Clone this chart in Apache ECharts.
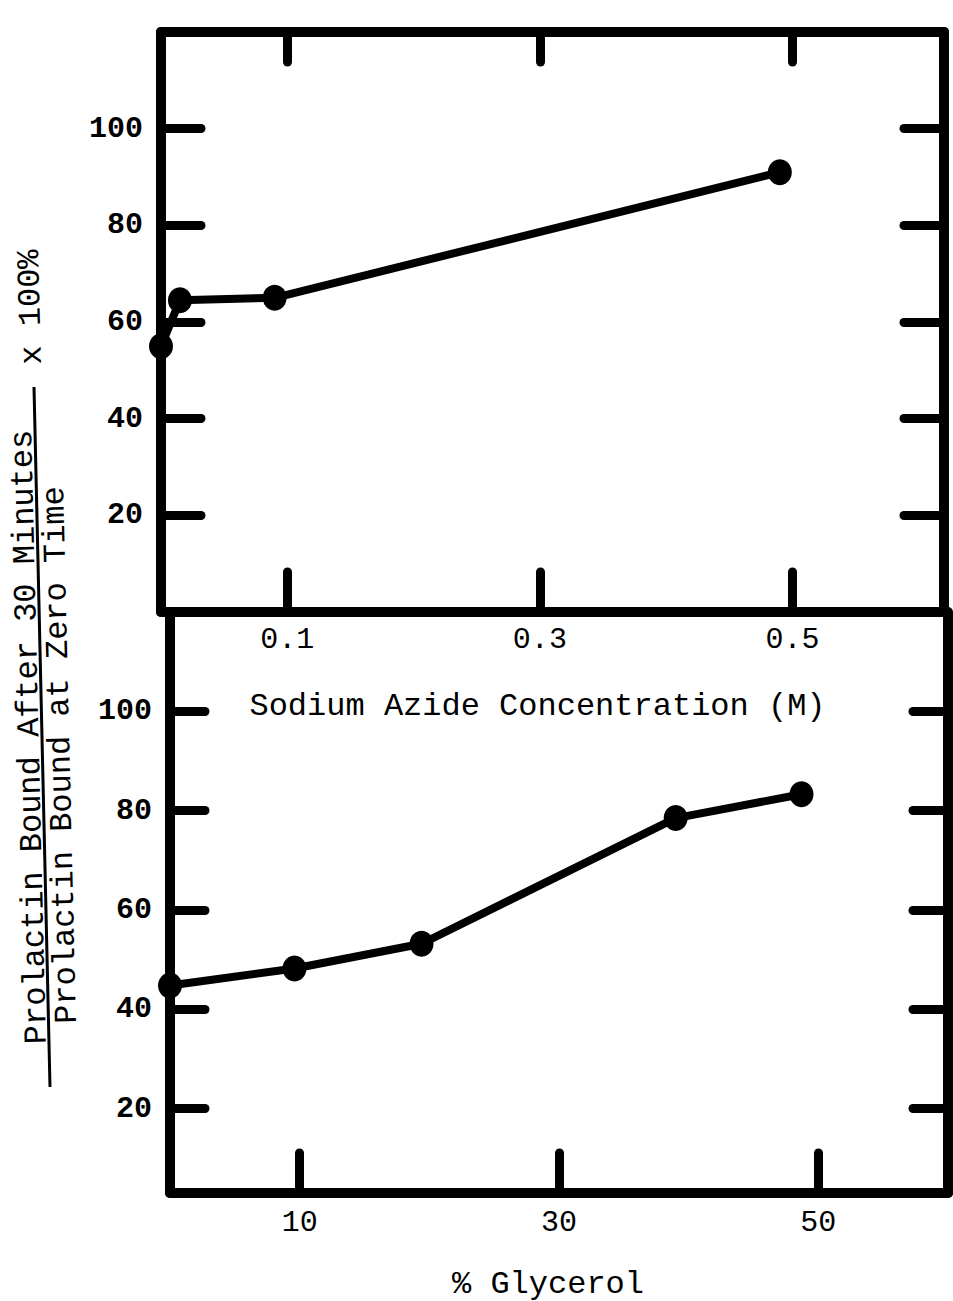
<!DOCTYPE html>
<html>
<head>
<meta charset="utf-8">
<script src="https://cdn.jsdelivr.net/npm/echarts@6/dist/echarts.min.js"></script>
<style>
  html, body { margin: 0; padding: 0; background: #fff; }
  #chart { width: 953px; height: 1301px; }
</style>
</head>
<body>
<div id="chart"></div>
<script>
// ---- data ----
const azideConc = [0, 0.015, 0.09, 0.49];          // M
const azideBound = [55, 64.5, 65, 91];              // %
const glycerolPct = [0, 9.6, 19.4, 39, 48.7];       // %
const glycerolBound = [44.8, 48.2, 53.2, 78.5, 83.3];
const yTickValues = [20, 40, 60, 80, 100];
const azideTickValues = [0.1, 0.3, 0.5];
const glycerolTickValues = [10, 30, 50];
const azideTitle = 'Sodium Azide Concentration (M)';
const glycerolTitle = '% Glycerol';
const yTitleNumerator = 'Prolactin Bound After 30 Minutes';
const yTitleDenominator = 'Prolactin Bound at Zero Time';
const yTitleFactor = 'x 100%';

const FONT = "'Liberation Mono', 'DejaVu Sans Mono', monospace";
const INK = '#000';

function frameLine(w) {
  return { show: true, onZero: false, lineStyle: { color: INK, width: w, cap: 'round' } };
}
function tick(len, values) {
  return { show: true, inside: true, length: len, customValues: values,
           lineStyle: { color: INK, width: 9, cap: 'round' } };
}

const chart = echarts.init(document.getElementById('chart'), null, { renderer: 'svg' });

const option = {
  backgroundColor: '#fff',
  animation: false,
  grid: [
    { left: 161, top: 32, width: 783, height: 580 },
    { left: 170, top: 612, width: 778, height: 583 }
  ],
  xAxis: [
    { // top panel bottom axis
      type: 'value', gridIndex: 0, position: 'bottom', min: 0, max: 0.62,
      axisLine: frameLine(10), axisTick: tick(40, azideTickValues),
      axisLabel: { show: true, customValues: azideTickValues, margin: 13,
                   fontFamily: FONT, fontSize: 30, color: INK,
                   formatter: v => v.toFixed(1) },
      splitLine: { show: false },
      name: azideTitle, nameLocation: 'middle', nameGap: 78,
      nameTextStyle: { fontFamily: FONT, fontSize: 32, color: INK, padding: [0, 30, 0, 0] }
    },
    { // top panel top border
      type: 'value', gridIndex: 0, position: 'top', min: 0, max: 0.62,
      axisLine: frameLine(10), axisTick: tick(30, azideTickValues),
      axisLabel: { show: false }, splitLine: { show: false }
    },
    { // bottom panel bottom axis
      type: 'value', gridIndex: 1, position: 'bottom', min: 0, max: 60,
      axisLine: frameLine(10), axisTick: tick(40, glycerolTickValues),
      axisLabel: { show: true, customValues: glycerolTickValues, margin: 15,
                   fontFamily: FONT, fontSize: 30, color: INK },
      splitLine: { show: false },
      name: glycerolTitle, nameLocation: 'middle', nameGap: 75,
      nameTextStyle: { fontFamily: FONT, fontSize: 32, color: INK, padding: [0, 22, 0, 0] }
    }
  ],
  yAxis: [
    { // top panel left
      type: 'value', gridIndex: 0, position: 'left', min: 0, max: 120,
      axisLine: frameLine(10), axisTick: tick(40, yTickValues),
      axisLabel: { show: true, customValues: yTickValues, margin: 18,
                   fontFamily: FONT, fontSize: 30, fontWeight: 'bold', color: INK },
      splitLine: { show: false }
    },
    { // top panel right
      type: 'value', gridIndex: 0, position: 'right', min: 0, max: 120,
      axisLine: frameLine(10), axisTick: tick(40, yTickValues),
      axisLabel: { show: false }, splitLine: { show: false }
    },
    { // bottom panel left
      type: 'value', gridIndex: 1, position: 'left', min: 3, max: 120,
      axisLine: frameLine(10), axisTick: tick(35, yTickValues),
      axisLabel: { show: true, customValues: yTickValues, margin: 18,
                   fontFamily: FONT, fontSize: 30, fontWeight: 'bold', color: INK },
      splitLine: { show: false }
    },
    { // bottom panel right
      type: 'value', gridIndex: 1, position: 'right', min: 3, max: 120,
      axisLine: frameLine(10), axisTick: tick(35, yTickValues),
      axisLabel: { show: false }, splitLine: { show: false }
    }
  ],
  series: [
    {
      type: 'line', xAxisIndex: 0, yAxisIndex: 0, clip: false,
      data: azideConc.map((x, i) => [x, azideBound[i]]),
      symbol: 'circle', symbolSize: [24, 26],
      lineStyle: { color: INK, width: 8 }, itemStyle: { color: INK }
    },
    {
      type: 'line', xAxisIndex: 2, yAxisIndex: 2, clip: false,
      data: glycerolPct.map((x, i) => [x, glycerolBound[i]]),
      symbol: 'circle', symbolSize: [24, 26],
      lineStyle: { color: INK, width: 8 }, itemStyle: { color: INK }
    }
  ],
  graphic: [
    { type: 'text', x: 30, y: 737, rotation: Math.PI / 2 + 0.024,
      style: { text: yTitleNumerator, font: "32px " + FONT, fill: INK,
               textAlign: 'center', textVerticalAlign: 'middle' } },
    { type: 'line', shape: { x1: 50, y1: 1087, x2: 34, y2: 387 },
      style: { stroke: INK, lineWidth: 3 } },
    { type: 'text', x: 61, y: 755, rotation: Math.PI / 2 + 0.024,
      style: { text: yTitleDenominator, font: "32px " + FONT, fill: INK,
               textAlign: 'center', textVerticalAlign: 'middle' } },
    { type: 'text', x: 31, y: 307, rotation: Math.PI / 2 + 0.024,
      style: { text: yTitleFactor, font: "32px " + FONT, fill: INK,
               textAlign: 'center', textVerticalAlign: 'middle' } }
  ]
};
chart.setOption(option);
</script>
</body>
</html>
